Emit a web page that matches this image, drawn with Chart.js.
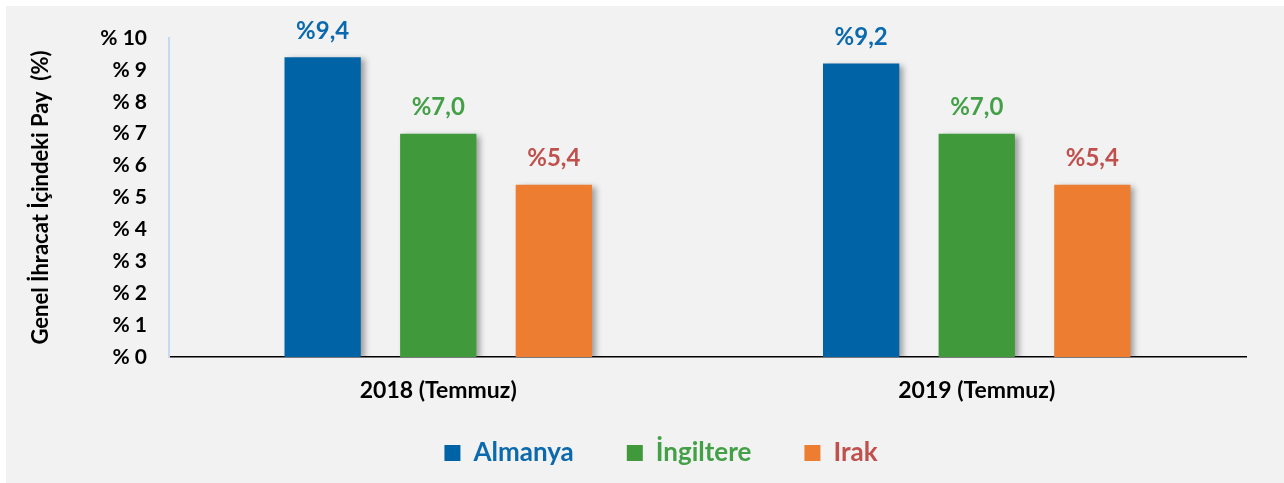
<!DOCTYPE html>
<html>
<head>
<meta charset="utf-8">
<script src="https://cdn.jsdelivr.net/npm/chart.js@4.4.0/dist/chart.umd.min.js"></script>
<style>
  html, body { margin: 0; padding: 0; background: #ffffff; }
  #wrap { position: absolute; left: 6px; top: 6px; width: 1278px; height: 477px; background: #f2f2f2; }
</style>
</head>
<body>
<div id="wrap"><canvas id="chart" width="1278" height="477"></canvas></div>
<script>
// veriler
const categories = ['2018 (Temmuz)', '2019 (Temmuz)'];
const seriesNames = ['Almanya', 'İngiltere', 'Irak'];
const almanya = [9.4, 9.2];
const ingiltere = [7.0, 7.0];
const irak = [5.4, 5.4];
const yTicks = [0, 1, 2, 3, 4, 5, 6, 7, 8, 9, 10];

const barColors = ['#0063a6', '#409a3c', '#ed7d31'];
const textColors = ['#0a6aad', '#43a047', '#c0504d'];
const FONT = 'Lato, "Noto Sans", sans-serif';

// gölge efekti (bar'ların sağında)
const shadowPlugin = {
    id: 'barShadow',
    beforeDatasetDraw(chart) {
        const ctx = chart.ctx;
        ctx.save();
        ctx.shadowColor = 'rgba(0,0,0,0.35)';
        ctx.shadowBlur = 6;
        ctx.shadowOffsetX = 4;
        ctx.shadowOffsetY = 2;
    },
    afterDatasetDraw(chart) {
        chart.ctx.restore();
    }
};

// legend konumu: biraz sağa ve x ekseni etiketlerinin altına
const legendShift = {
    id: 'legendShift',
    afterLayout(chart) {
        const lg = chart.legend;
        if (!lg) return;
        const dx = 655 - (lg.left + lg.right) / 2;
        lg.left += dx;
        lg.right += dx;
        const lab = lg.options.labels;
        const dy = 447 - (lg.top + lab.padding + lab.font.size / 2);
        lg.top += dy;
        lg.bottom += dy;
    }
};

// bar üstündeki yüzde etiketleri
const valueLabels = {
    id: 'valueLabels',
    afterDatasetsDraw(chart) {
        const ctx = chart.ctx;
        ctx.save();
        ctx.font = 'bold 24px ' + FONT;
        ctx.textAlign = 'center';
        ctx.textBaseline = 'middle';
        chart.data.datasets.forEach((ds, i) => {
            const meta = chart.getDatasetMeta(i);
            ctx.fillStyle = textColors[i];
            meta.data.forEach((bar, j) => {
                const txt = '%' + ds.data[j].toFixed(1).replace('.', ',');
                ctx.fillText(txt, bar.x, bar.y - 26);
            });
        });
        ctx.restore();
    }
};

const datasets = [almanya, ingiltere, irak].map((vals, i) => ({
    label: seriesNames[i],
    data: vals,
    backgroundColor: barColors[i],
    borderWidth: 0,
    categoryPercentage: 0.644,
    barPercentage: 0.66
}));

new Chart(document.getElementById('chart'), {
    type: 'bar',
    data: { labels: categories, datasets: datasets },
    options: {
        responsive: false,
        animation: false,
        layout: { padding: { top: 32, right: 38, bottom: -23, left: 0 } },
        plugins: {
            tooltip: { enabled: false },
            legend: {
                position: 'bottom',
                labels: {
                    boxWidth: 16,
                    boxHeight: 16,
                    padding: 53,
                    font: { family: FONT, size: 26, weight: 'bold' },
                    generateLabels(chart) {
                        return chart.data.datasets.map((ds, i) => ({
                            text: ds.label,
                            fillStyle: barColors[i],
                            strokeStyle: barColors[i],
                            lineWidth: 0,
                            fontColor: textColors[i],
                            hidden: false,
                            datasetIndex: i
                        }));
                    }
                }
            }
        },
        scales: {
            x: {
                grid: { display: false, drawTicks: false },
                border: { display: true, color: '#000000', width: 1.5 },
                ticks: {
                    color: '#000000',
                    padding: 20,
                    font: { family: FONT, size: 23, weight: 'bold' }
                },
                afterFit(scale) { scale.height = 60; }
            },
            y: {
                min: 0,
                max: 10,
                afterBuildTicks(scale) {
                    scale.ticks = yTicks.map(v => ({ value: v }));
                },
                grid: { display: false, drawTicks: false },
                border: { display: true, color: '#c6d9f1', width: 2 },
                ticks: {
                    color: '#000000',
                    padding: 22,
                    font: { family: FONT, size: 21, weight: 'bold' },
                    callback: v => '% ' + v
                },
                title: {
                    display: true,
                    text: 'Genel İhracat İçindeki Pay  (%)',
                    color: '#000000',
                    padding: { top: 22, bottom: 0 },
                    font: { family: FONT, size: 22, weight: 'bold' }
                },
                afterFit(scale) {
                    scale.width = 163;
                    // etiket yüksekliğinden gelen ekstra boşluğu kaldır
                    scale.paddingTop = 0;
                    scale.paddingBottom = 0;
                }
            }
        }
    },
    plugins: [shadowPlugin, legendShift, valueLabels]
});
</script>
</body>
</html>
